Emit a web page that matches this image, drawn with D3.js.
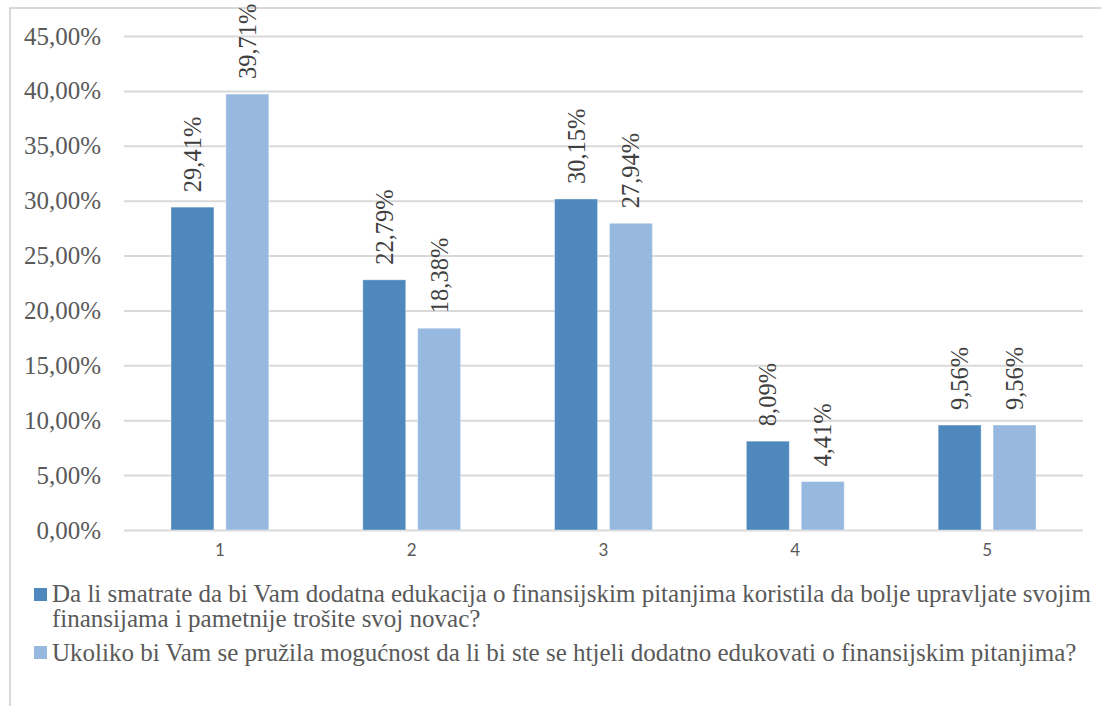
<!DOCTYPE html>
<html>
<head>
<meta charset="utf-8">
<script src="https://cdn.jsdelivr.net/npm/d3@7/dist/d3.min.js"></script>
</head>
<body>
<svg id="s" width="1101" height="706" style="position:absolute;left:0;top:0;font-family:'Liberation Serif'"></svg>
<script>
// Answer groups shown on the horizontal axis
const categories = ["1", "2", "3", "4", "5"];

// Share of respondents (percent) for each question
const seriesNames = [
  "Da li smatrate da bi Vam dodatna edukacija o finansijskim pitanjima koristila da bolje upravljate svojim finansijama i pametnije trošite svoj novac?",
  "Ukoliko bi Vam se pružila mogućnost da li bi ste se htjeli dodatno edukovati o finansijskim pitanjima?"
];
const seriesA = [29.41, 22.79, 30.15, 8.09, 9.56];
const seriesB = [39.71, 18.38, 27.94, 4.41, 9.56];

// Vertical axis ticks (percent)
const yTicks = [0, 5, 10, 15, 20, 25, 30, 35, 40, 45];

// Legend lines, as wrapped in the legend box
const legendLines = [
  ["Da li smatrate da bi Vam dodatna edukacija o finansijskim pitanjima koristila da bolje upravljate svojim",
   "finansijama i pametnije trošite svoj novac?"],
  ["Ukoliko bi Vam se pružila mogućnost da li bi ste se htjeli dodatno edukovati o finansijskim pitanjima?"]
];

const colors = ["#4f88bc", "#97b9e0"];

const svg = d3.select("#s");

// Serif text helper
function serif(sel, size) {
  return sel
    .style("font-family", `"Liberation Serif"`)
    .style("font-size", `${size}px`);
}

// Decimal comma formatting, e.g. 45,00%
const locale = d3.formatLocale({ decimal: ",", thousands: ".", grouping: [3], currency: ["", " KM"] });
const fmtTick = v => locale.format(".2f")(v) + "%";

const plot = { left: 124, right: 1083, top: 36, bottom: 530 };

const x0 = d3.scaleBand()
  .domain(categories)
  .range([plot.left, plot.right])
  .paddingInner(0.49)
  .paddingOuter(0.245);

const keys = [0, 1];
const x1 = d3.scaleBand()
  .domain(keys)
  .range([0, x0.bandwidth()])
  .paddingInner(0.218);

const y = d3.scaleLinear()
  .domain([0, 45])
  .range([plot.bottom, plot.top]);

// Chart frame (extends past the visible page on the right and bottom)
svg.append("rect")
  .attr("x", 10).attr("y", 8)
  .attr("width", 1200).attr("height", 800)
  .attr("fill", "none")
  .attr("stroke", "#d9d9d9")
  .attr("stroke-width", 2);

// Horizontal gridlines
const gy = svg.append("g")
  .attr("transform", `translate(${plot.left},0)`)
  .call(d3.axisLeft(y).tickValues(yTicks).tickSize(-(plot.right - plot.left)).tickFormat(""));
gy.select(".domain").remove();
gy.selectAll(".tick line")
  .attr("stroke", "#d9d9d9")
  .attr("stroke-width", 2);

// Percentage labels on the vertical axis
yTicks.forEach(t => {
  serif(svg.append("text"), 25)
    .attr("x", 101)
    .attr("y", y(t) + 8.5)
    .attr("text-anchor", "end")
    .attr("fill", "#595959")
    .text(fmtTick(t));
});

// Category labels
categories.forEach(c => {
  svg.append("text")
    .attr("x", x0(c) + x0.bandwidth() / 2)
    .attr("y", plot.bottom + 26)
    .attr("text-anchor", "middle")
    .style("font-family", `"Lato"`)
    .style("font-size", "17px")
    .attr("fill", "#595959")
    .text(c);
});

// Bars
const rows = categories.map((c, i) => ({ cat: c, vals: [seriesA[i], seriesB[i]] }));

const groups = svg.append("g").selectAll("g")
  .data(rows)
  .join("g")
  .attr("transform", d => `translate(${x0(d.cat)},0)`);

groups.selectAll("rect")
  .data(d => d.vals.map((v, k) => ({ k, v })))
  .join("rect")
  .attr("x", d => x1(d.k))
  .attr("y", d => y(d.v))
  .attr("width", x1.bandwidth())
  .attr("height", d => y(0) - y(d.v))
  .attr("fill", d => colors[d.k])
  .attr("stroke", "#ffffff")
  .attr("stroke-opacity", 0.35)
  .attr("stroke-width", 1);

// Value labels, rotated to read upward
rows.forEach(r => {
  r.vals.forEach((v, k) => {
    serif(svg.append("text"), 24.5)
      .attr("transform", `translate(${x0(r.cat) + x1(k) + x1.bandwidth() / 2 + 8.5},${y(v) - 15}) rotate(-90)`)
      .attr("fill", "#404040")
      .text(fmtTick(v));
  });
});

// Legend
const legendBase = [[602, 627], [661]];
const markerTop = [588, 646];
legendLines.forEach((lines, k) => {
  svg.append("rect")
    .attr("x", 34).attr("y", markerTop[k])
    .attr("width", 13).attr("height", 13)
    .attr("fill", colors[k]);
  lines.forEach((line, j) => {
    serif(svg.append("text"), 25)
      .attr("x", 52).attr("y", legendBase[k][j])
      .attr("fill", "#595959")
      .text(line);
  });
});
</script>
</body>
</html>
